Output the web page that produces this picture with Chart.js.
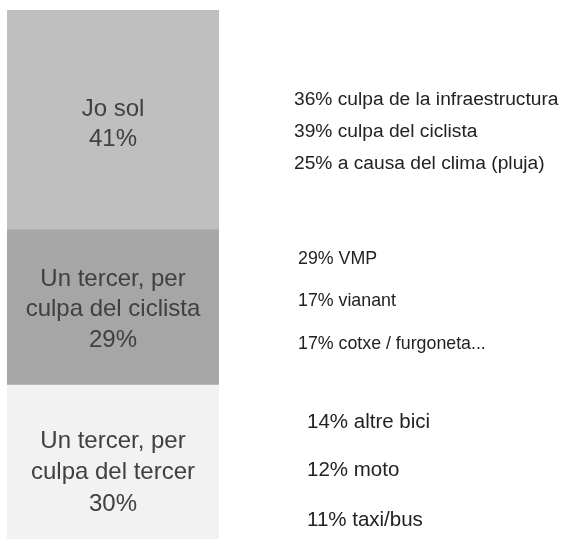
<!DOCTYPE html>
<html>
<head>
<meta charset="utf-8">
<script src="https://cdn.jsdelivr.net/npm/chart.js@4"></script>
<style>
  html, body { margin: 0; padding: 0; background: #fff; overflow: hidden; }
  #wrap { width: 567px; height: 546px; }
</style>
</head>
<body>
<div id="wrap"><canvas id="c"></canvas></div>
<script>
// stacked from bottom to top
const segmentLabels = [
  ['Un tercer, per', 'culpa del tercer', '30%'],
  ['Un tercer, per', 'culpa del ciclista', '29%'],
  ['Jo sol', '41%']
];
const segmentValues = [30, 29, 41];
const segmentColours = ['#f2f2f2', '#a6a6a6', '#bfbfbf'];

const notes = [
  ['14% altre bici', '12% moto', '11% taxi/bus'],
  ['29% VMP', '17% vianant', '17% cotxe / furgoneta...'],
  ['36% culpa de la infraestructura', '39% culpa del ciclista', '25% a causa del clima (pluja)']
];
// where each note sits inside its segment (0 = top, 1 = bottom)
const noteSpots = [[0.229, 0.53, 0.841], [0.188, 0.458, 0.738], [0.409, 0.555, 0.701]];
const noteX = [307, 298, 294];
const noteSize = [20.5, 17.8, 19.2];
const labelShift = [7, 2, 4];
const lineGap = [31.5, 30.5, 30];

const fontFamily = '"Liberation Sans", Arial, sans-serif';

const textPlugin = {
  id: 'segmentText',
  afterDatasetsDraw(chart) {
    const ctx = chart.ctx;
    ctx.save();
    chart.data.datasets.forEach((ds, i) => {
      const bar = chart.getDatasetMeta(i).data[0];
      const top = bar.y, bottom = bar.base;
      const lines = segmentLabels[i];
      ctx.fillStyle = '#404040';
      ctx.font = '24px ' + fontFamily;
      ctx.textAlign = 'center';
      ctx.textBaseline = 'middle';
      const mid = (top + bottom) / 2 + labelShift[i];
      lines.forEach((t, k) => {
        ctx.fillText(t, bar.x, mid + (k - (lines.length - 1) / 2) * lineGap[i]);
      });
      ctx.fillStyle = '#222';
      ctx.font = noteSize[i] + 'px ' + fontFamily;
      ctx.textAlign = 'left';
      notes[i].forEach((t, k) => {
        ctx.fillText(t, noteX[i], top + (bottom - top) * noteSpots[i][k]);
      });
    });
    ctx.restore();
  }
};

new Chart(document.getElementById('c'), {
  type: 'bar',
  data: {
    labels: [''],
    datasets: segmentValues.map((v, i) => ({
      data: [v],
      backgroundColor: segmentColours[i],
      borderWidth: 0,
      barPercentage: 1,
      categoryPercentage: 1
    }))
  },
  options: {
    responsive: true,
    maintainAspectRatio: false,
    animation: false,
    layout: { padding: { left: 7, right: 348, top: 10, bottom: 0 } },
    plugins: { legend: { display: false }, tooltip: { enabled: false } },
    scales: {
      x: { stacked: true, display: false },
      y: { stacked: true, display: false, min: 0, max: 100 }
    }
  },
  plugins: [textPlugin]
});
</script>
</body>
</html>
